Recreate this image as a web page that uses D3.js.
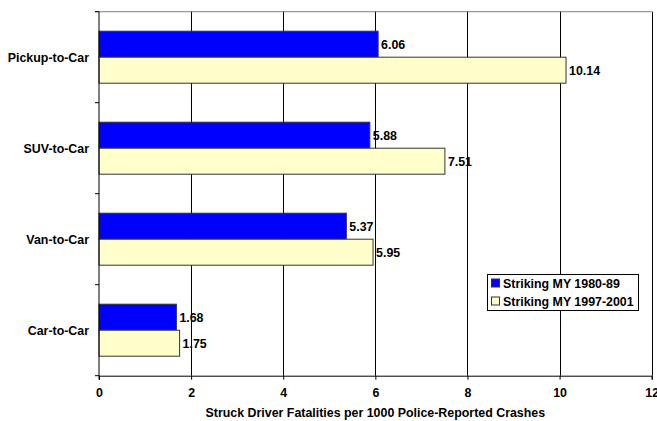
<!DOCTYPE html>
<html>
<head>
<meta charset="utf-8">
<script src="https://cdn.jsdelivr.net/npm/d3@7"></script>
<style>
  body { margin: 0; background: #fff; }
  svg { display: block; }
  text { font-family: Arial, "Liberation Sans", sans-serif; font-weight: bold; font-size: 12.4px; fill: #000; }
</style>
</head>
<body>
<script>
const width = 657;
const height = 421;
const margin = { top: 11.7, right: 5.3, bottom: 45.3, left: 99 };

// data
const categories = ["Pickup-to-Car", "SUV-to-Car", "Van-to-Car", "Car-to-Car"];
const seriesNames = ["Striking MY 1980-89", "Striking MY 1997-2001"];
const seriesColors = ["#0000ff", "#ffffcc"];
const values1980 = [6.06, 5.88, 5.37, 1.68];
const values1997 = [10.14, 7.51, 5.95, 1.75];
const xTicks = [0, 2, 4, 6, 8, 10, 12];
const xTitle = "Struck Driver Fatalities per 1000 Police-Reported Crashes";

const rows = categories.map((c, i) => ({
    cat: c,
    vals: [
        { s: 0, v: values1980[i] },
        { s: 1, v: values1997[i] }
    ]
}));

const svg = d3.select("body")
    .append("svg")
    .attr("width", width)
    .attr("height", height);

const x = d3.scaleLinear()
    .domain([0, 12])
    .range([margin.left, width - margin.right]);

const y = d3.scaleBand()
    .domain(categories)
    .range([margin.top, height - margin.bottom]);

const ySub = d3.scaleBand()
    .domain([0, 1])
    .range([0, y.bandwidth()])
    .paddingOuter(0.75);

const plotTop = margin.top, plotBottom = height - margin.bottom;

// top border (gray)
svg.append("line")
    .attr("x1", x(0) - 4).attr("x2", x(12))
    .attr("y1", plotTop).attr("y2", plotTop)
    .attr("stroke", "#808080");

// vertical gridlines
svg.append("g")
    .selectAll("line")
    .data(xTicks.slice(1))
    .join("line")
    .attr("x1", d => Math.round(x(d)) + 0.5)
    .attr("x2", d => Math.round(x(d)) + 0.5)
    .attr("y1", plotTop).attr("y2", plotBottom)
    .attr("stroke", "#000");

// bars
const groups = svg.append("g")
    .selectAll("g")
    .data(rows)
    .join("g")
    .attr("transform", d => `translate(0,${y(d.cat)})`);

groups.selectAll("rect")
    .data(d => d.vals)
    .join("rect")
    .attr("x", x(0))
    .attr("y", d => ySub(d.s))
    .attr("width", d => x(d.v) - x(0))
    .attr("height", ySub.bandwidth())
    .attr("fill", d => seriesColors[d.s])
    .attr("stroke", "#333")
    .attr("stroke-width", 1);

groups.selectAll("text")
    .data(d => d.vals)
    .join("text")
    .attr("x", d => x(d.v) + 3)
    .attr("y", d => ySub(d.s) + ySub.bandwidth() / 2)
    .attr("dy", "0.36em")
    .text(d => d.v.toFixed(2));

// x axis
const xAxis = d3.axisBottom(x)
    .tickValues(xTicks)
    .tickSize(4)
    .tickPadding(9)
    .tickFormat(d3.format("d"));

const gx = svg.append("g")
    .attr("transform", `translate(0,${plotBottom})`)
    .call(xAxis);
gx.select(".domain").attr("stroke", "#000");
gx.selectAll("text").attr("font-family", null).attr("font-size", null);

// y axis: ticks at band boundaries, labels at centers
svg.append("line")
    .attr("x1", x(0)).attr("x2", x(0))
    .attr("y1", plotTop).attr("y2", plotBottom + 4)
    .attr("stroke", "#000");

const boundaries = categories.map(c => y(c)).concat([plotBottom]);
svg.append("g")
    .selectAll("line")
    .data(boundaries)
    .join("line")
    .attr("x1", x(0) - 4).attr("x2", x(0))
    .attr("y1", d => d).attr("y2", d => d)
    .attr("stroke", "#000");

svg.append("g")
    .selectAll("text")
    .data(categories)
    .join("text")
    .attr("x", x(0) - 10)
    .attr("y", d => y(d) + y.bandwidth() / 2)
    .attr("dy", "0.36em")
    .attr("text-anchor", "end")
    .text(d => d);

// axis title
svg.append("text")
    .attr("x", (x(0) + x(12)) / 2)
    .attr("y", 417)
    .attr("text-anchor", "middle")
    .text(xTitle);

// legend
const legend = svg.append("g")
    .attr("transform", "translate(487,274)");

legend.append("rect")
    .attr("x", 0.5).attr("y", 0.5)
    .attr("width", 151).attr("height", 36)
    .attr("fill", "#fff")
    .attr("stroke", "#000");

const items = legend.selectAll("g")
    .data(seriesNames)
    .join("g")
    .attr("transform", (d, i) => `translate(0,${9.5 + i * 18})`);

items.append("rect")
    .attr("x", 4.5).attr("y", -4.5)
    .attr("width", 8).attr("height", 8)
    .attr("fill", (d, i) => seriesColors[i])
    .attr("stroke", "#333");

items.append("text")
    .attr("x", 16)
    .attr("y", 0)
    .attr("dy", "0.36em")
    .text(d => d);
</script>
</body>
</html>
